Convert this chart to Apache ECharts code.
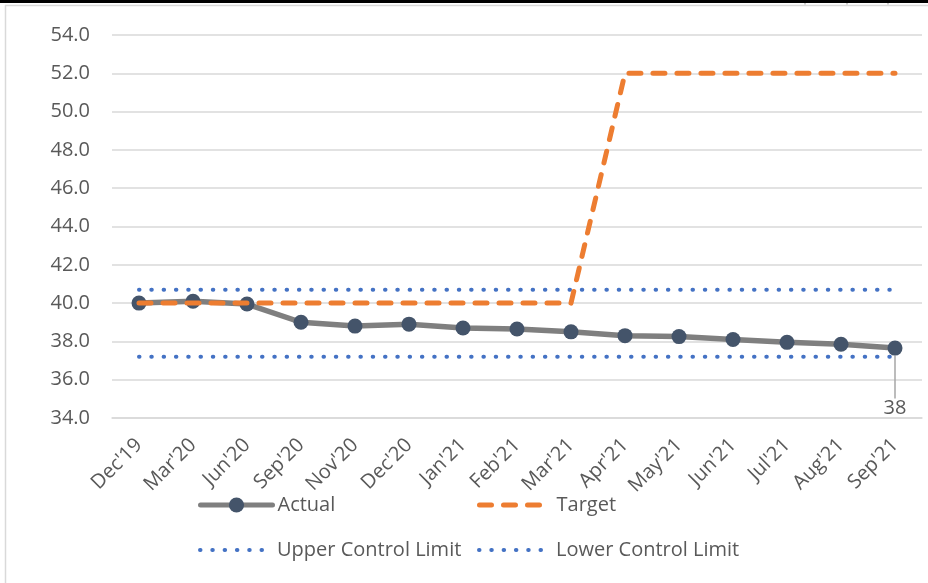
<!DOCTYPE html>
<html>
<head>
<meta charset="utf-8">
<script src="https://cdn.jsdelivr.net/npm/echarts@6/dist/echarts.min.js"></script>
<style>html,body{margin:0;padding:0;background:#fff;}#c{width:928px;height:583px;}</style>
</head>
<body>
<div id="c"></div>
<script>
const categories = ["Dec'19","Mar'20","Jun'20","Sep'20","Nov'20","Dec'20","Jan'21","Feb'21","Mar'21","Apr'21","May'21","Jun'21","Jul'21","Aug'21","Sep'21"];
const actual = [40.0, 40.1, 39.95, 39.0, 38.8, 38.9, 38.7, 38.65, 38.5, 38.3, 38.25, 38.1, 37.95, 37.85, 37.65];
const target = [40, 40, 40, 40, 40, 40, 40, 40, 40, 52, 52, 52, 52, 52, 52];
const upperControlLimit = [40.7, 40.7, 40.7, 40.7, 40.7, 40.7, 40.7, 40.7, 40.7, 40.7, 40.7, 40.7, 40.7, 40.7, 40.7];
const lowerControlLimit = [37.2, 37.2, 37.2, 37.2, 37.2, 37.2, 37.2, 37.2, 37.2, 37.2, 37.2, 37.2, 37.2, 37.2, 37.2];
const yTicks = {min: 34, max: 54, interval: 2};

const FONT = "'Open Sans'";
const TXT = '#595959';
const chart = echarts.init(document.getElementById('c'), null, {renderer: 'canvas'});

const lastIdx = actual.length - 1;
const actualData = actual.map((v, i) => i === lastIdx ? {
  value: v,
  label: {show: true, position: 'bottom', formatter: p => String(Math.round(p.value)), fontFamily: FONT, fontSize: 20, color: TXT},
  labelLine: {show: true, lineStyle: {color: '#A6A6A6', width: 1.5}}
} : v);

const DOT = [0.5, 11.8];
const DASH = [12, 12];

function legend(name, left, top, lineStyle, hideSymbol) {
  return {
    data: [name], left: left, top: top, itemWidth: 72, itemHeight: 19, padding: 0,
    lineStyle: lineStyle,
    itemStyle: hideSymbol ? {opacity: 0} : {},
    textStyle: {fontFamily: FONT, fontSize: 20, color: TXT}, selectedMode: false
  };
}

chart.setOption({
  animation: false,
  backgroundColor: '#fff',
  graphic: [
    {type: 'rect', shape: {x: 0, y: 0, width: 928, height: 3}, style: {fill: '#000'}},
    {type: 'line', shape: {x1: 5.5, y1: 5, x2: 5.5, y2: 583}, style: {stroke: '#D9D9D9', lineWidth: 1.5}},
    {type: 'line', shape: {x1: 5, y1: 5.5, x2: 928, y2: 5.5}, style: {stroke: '#D9D9D9', lineWidth: 1.5}},
    {type: 'line', shape: {x1: 805, y1: 3, x2: 805, y2: 4.5}, style: {stroke: '#999', lineWidth: 1}},
    {type: 'line', shape: {x1: 847, y1: 3, x2: 847, y2: 4.5}, style: {stroke: '#999', lineWidth: 1}},
    {type: 'line', shape: {x1: 888, y1: 3, x2: 888, y2: 4.5}, style: {stroke: '#999', lineWidth: 1}}
  ],
  grid: {left: 112, right: 6, top: 35, bottom: 165, containLabel: false},
  legend: [
    legend('Actual', 198, 495, {width: 5, cap: 'round'}, false),
    legend('Target', 477, 495, {width: 5, type: DASH, cap: 'round'}, true),
    legend('Upper Control Limit', 198, 540, {width: 4, type: DOT, cap: 'round'}, true),
    legend('Lower Control Limit', 477, 540, {width: 4, type: DOT, cap: 'round'}, true)
  ],
  xAxis: {
    type: 'category', data: categories, boundaryGap: true,
    axisLine: {show: true, lineStyle: {color: '#D9D9D9', width: 1.5}},
    axisTick: {show: false},
    axisLabel: {rotate: 45, margin: 24, fontFamily: FONT, fontSize: 20, color: TXT, interval: 0}
  },
  yAxis: {
    type: 'value', min: yTicks.min, max: yTicks.max, interval: yTicks.interval,
    axisLine: {show: false}, axisTick: {show: false},
    splitLine: {lineStyle: {color: '#D9D9D9', width: 1.5}},
    axisLabel: {margin: 22, fontFamily: FONT, fontSize: 20, color: TXT, formatter: v => v.toFixed(1)}
  },
  series: [
    {
      name: 'Upper Control Limit', type: 'line', data: upperControlLimit, symbol: 'none', z: 2,
      lineStyle: {color: '#4472C4', width: 4, type: DOT, cap: 'round'},
      itemStyle: {color: '#4472C4'}
    },
    {
      name: 'Lower Control Limit', type: 'line', data: lowerControlLimit, symbol: 'none', z: 2,
      lineStyle: {color: '#4472C4', width: 4, type: DOT, cap: 'round'},
      itemStyle: {color: '#4472C4'}
    },
    {
      name: 'Actual', type: 'line', data: actualData, symbol: 'circle', symbolSize: 15, z: 3,
      lineStyle: {color: '#7F7F7F', width: 5.5, cap: 'round', join: 'round'},
      itemStyle: {color: '#44546A'},
      labelLayout: p => p.dataIndex === lastIdx ? {dy: 38} : {}
    },
    {
      name: 'Target', type: 'line', data: target, symbol: 'none', z: 4,
      lineStyle: {color: '#ED7D31', width: 5, type: DASH, cap: 'round'},
      itemStyle: {color: '#ED7D31'}
    }
  ]
});
</script>
</body>
</html>
